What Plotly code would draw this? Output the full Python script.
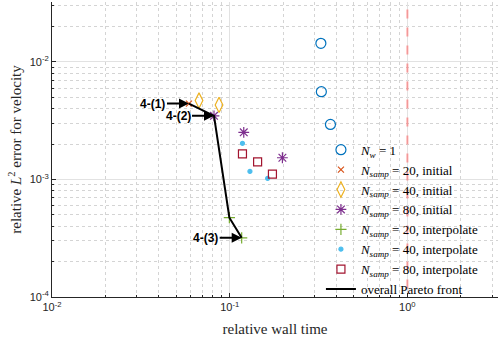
import numpy as np
import plotly.graph_objects as go

# relative wall time / relative L2 error
nw1_time = [0.326, 0.328, 0.369]
nw1_err = [0.0144, 0.00558, 0.00294]

ns20_init_time = [0.059]
ns20_init_err = [0.00442]
ns40_init_time = [0.0672, 0.0871]
ns40_init_err = [0.00469, 0.00431]
ns80_init_time = [0.0816, 0.120, 0.198]
ns80_init_err = [0.00348, 0.00252, 0.00153]

ns20_interp_time = [0.0996, 0.1168]
ns20_interp_err = [0.000473, 0.000319]
ns40_interp_time = [0.118, 0.130, 0.1635]
ns40_interp_err = [0.00203, 0.00117, 0.00102]
ns80_interp_time = [0.118, 0.1436, 0.174]
ns80_interp_err = [0.00165, 0.00141, 0.00111]

pareto_time = [0.059, 0.0816, 0.0996, 0.1168]
pareto_err = [0.00442, 0.00348, 0.000473, 0.000319]

# which Pareto points get a label
case_labels = ["4-(1)", "4-(2)", "4-(3)"]
case_index = [0, 1, 3]

baseline_time = 1.0

x_tickvals = [0.01, 0.1, 1]
x_ticktext = ["10<sup>-2</sup>", "10<sup>-1</sup>", "10<sup>0</sup>"]
y_tickvals = [1e-4, 1e-3, 1e-2]
y_ticktext = ["10<sup>-4</sup>", "10<sup>-3</sup>", "10<sup>-2</sup>"]

SERIF = "Liberation Serif"
SANS = "Liberation Sans"
NS = "<i>N</i><sub><i>samp</i></sub>"

fig = go.Figure()

series = [
    (nw1_time, nw1_err, "<i>N</i><sub><i>w</i></sub> = 1", "circle-open", "#0072BD", 10),
    (ns20_init_time, ns20_init_err, NS + " = 20, initial", "x-thin-open", "#D95319", 6),
    (ns40_init_time, ns40_init_err, NS + " = 40, initial", "diamond-tall-open", "#EDB120", 11),
    (ns80_init_time, ns80_init_err, NS + " = 80, initial", "asterisk-open", "#7E2F8E", 9),
    (ns20_interp_time, ns20_interp_err, NS + " = 20, interpolate", "cross-thin-open", "#77AC30", 8),
    (ns40_interp_time, ns40_interp_err, NS + " = 40, interpolate", "circle", "#4DBEEE", 4),
    (ns80_interp_time, ns80_interp_err, NS + " = 80, interpolate", "square-open", "#A2142F", 8),
]

# reference line at relative wall time 1
fig.add_trace(
    go.Scatter(
        x=[baseline_time, baseline_time],
        y=[1e-5, 1],
        mode="lines",
        line=dict(color="rgba(255,80,80,0.5)", width=2, dash="dash"),
        showlegend=False,
        hoverinfo="skip",
    )
)

for xs, ys, name, symbol, color, size in series:
    fig.add_trace(
        go.Scatter(
            x=xs,
            y=ys,
            mode="markers",
            name=name,
            marker=dict(symbol=symbol, color=color, size=size, line=dict(color=color, width=1.2)),
        )
    )

fig.add_trace(
    go.Scatter(
        x=pareto_time,
        y=pareto_err,
        mode="lines",
        name="overall Pareto front",
        line=dict(color="black", width=2),
    )
)

for label, i in zip(case_labels, case_index):
    fig.add_annotation(
        x=np.log10(pareto_time[i]),
        y=np.log10(pareto_err[i]),
        text="<b>" + label + "</b>",
        font=dict(family=SANS, size=12, color="black"),
        showarrow=True,
        arrowhead=2,
        arrowsize=1,
        arrowwidth=2,
        arrowcolor="black",
        ax=-36,
        ay=0,
    )

axis_common = dict(
    type="log",
    automargin=False,
    showline=True,
    linecolor="#262626",
    linewidth=1,
    ticks="inside",
    ticklen=4,
    tickcolor="#262626",
    tickfont=dict(family=SANS, size=11, color="#262626"),
    showgrid=True,
    gridcolor="#e2e2e2",
    gridwidth=1,
    zeroline=False,
    minor=dict(
        ticks="inside",
        ticklen=2,
        tickcolor="#262626",
        showgrid=True,
        gridcolor="#d4d4d4",
        griddash="dot",
        dtick="D1",
    ),
)

fig.update_xaxes(
    **axis_common,
    range=[-2, 0.51],
    tickvals=x_tickvals,
    ticktext=x_ticktext,
    title=dict(text="relative wall time", font=dict(family=SERIF, size=15, color="#262626"), standoff=12),
)
fig.update_yaxes(
    **axis_common,
    range=[-4, -1.49],
    tickvals=y_tickvals,
    ticktext=y_ticktext,
    title=dict(
        text="relative <i>L</i><sup>2</sup> error for velocity",
        font=dict(family=SERIF, size=15, color="#262626"),
        standoff=4,
    ),
)

fig.update_layout(
    width=498,
    height=337,
    margin=dict(l=52, r=0, t=2, b=40),
    plot_bgcolor="white",
    paper_bgcolor="white",
    legend=dict(
        x=0.603,
        y=0.55,
        xanchor="left",
        yanchor="top",
        bgcolor="rgba(0,0,0,0)",
        font=dict(family=SERIF, size=13, color="black"),
        tracegroupgap=0,
    ),
)

# drop the default page margin so the figure sits at the window corner
fig.write_html(
    "out.html",
    config={"displayModeBar": False},
    post_script="document.body.style.margin='0';",
)
